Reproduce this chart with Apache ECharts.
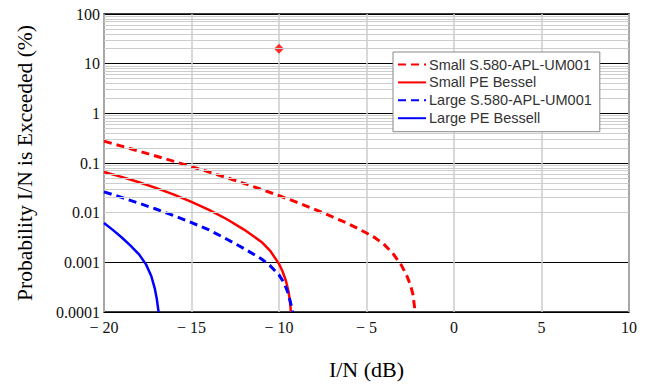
<!DOCTYPE html>
<html>
<head>
<meta charset="utf-8">
<script src="https://cdn.jsdelivr.net/npm/echarts@6.0.0/dist/echarts.min.js"></script>
<style>
    html, body {margin: 0; padding: 0; background: #fff;}
    .chart__container {width: 651px; height: 385px;}
</style>
</head>
<body>
<div class="chart__container"></div>
<script>
// I/N (dB) against probability (%)
let xTickLabels = ['\u2212 20', '\u2212 15', '\u2212 10', '\u2212 5', '0', '5', '10'];
let yTickLabels = ['0.0001', '0.001', '0.01', '0.1', '1', '10', '100'];

let smallS580X = [-20, -19, -18, -17, -16, -15, -14, -13, -12, -11, -10, -9, -8, -7, -6, -5, -4.5, -4, -3.5, -3, -2.7, -2.5, -2.35, -2.26, -2.22];
let smallS580Y = [0.275, 0.219, 0.173, 0.137, 0.108, 0.0845, 0.0658, 0.0508, 0.0389, 0.0294, 0.022, 0.0163, 0.0118, 0.0084, 0.0059, 0.0039, 0.0031, 0.0023, 0.00153, 0.00087, 0.00054, 0.00036, 0.00023, 0.00013, 0.0001];

let smallBesselX = [-20, -19, -18, -17, -16, -15, -14, -13, -12, -11, -10.5, -10, -9.8, -9.6, -9.45, -9.37, -9.32];
let smallBesselY = [0.0661, 0.0526, 0.041, 0.0312, 0.0231, 0.0165, 0.0114, 0.00745, 0.00457, 0.00257, 0.0017, 0.00093, 0.00066, 0.00042, 0.00025, 0.00016, 0.0001];

let largeS580X = [-20, -19, -18, -17, -16, -15, -14, -13, -12, -11, -10.5, -10, -9.7, -9.5, -9.35, -9.22];
let largeS580Y = [0.0263, 0.0203, 0.0155, 0.0117, 0.0087, 0.0063, 0.0045, 0.00295, 0.0019, 0.00117, 0.00085, 0.00056, 0.00038, 0.00025, 0.00016, 0.0001];

let largeBesselX = [-20, -19.5, -19, -18.5, -18, -17.6, -17.3, -17.1, -16.98, -16.88];
let largeBesselY = [0.0062, 0.0045, 0.0032, 0.0022, 0.00145, 0.00091, 0.00053, 0.0003, 0.00018, 0.0001];

let pointX = [-10];
let pointY = [20];

let pairs = (xs, ys) => xs.map((x, i) => [x, ys[i]]);

// minor log grid lines 2..9 in each decade
let minorLines = [];
for (let k = -4; k <= 1; k++) {
    for (let m = 2; m <= 9; m++) {
        minorLines.push({yAxis: m * Math.pow(10, k)});
    }
}

let main = document.querySelector('.chart__container');
let chart = echarts.init(main, null, {renderer: 'svg'});

let serifFont = 'Liberation Serif';

let lineSeries = (name, color, type, width, xs, ys) => ({
    type: 'line',
    name: name,
    data: pairs(xs, ys),
    symbol: 'none',
    showSymbol: false,
    smooth: false,
    z: 3,
    color: color,
    lineStyle: {color: color, width: width, type: type, join: 'round'},
});

let option = {
    animation: false,
    backgroundColor: '#fff',
    grid: {
        left: 104,
        right: 22,
        top: 14,
        bottom: 68,
        show: true,
        borderColor: '#000',
        borderWidth: 1.5,
        backgroundColor: 'transparent',
    },
    legend: {
        left: 393,
        top: 52,
        z: 20,
        orient: 'vertical',
        itemWidth: 28,
        itemHeight: 14,
        itemGap: 2.9,
        padding: [5, 8, 6, 4],
        backgroundColor: '#fff',
        borderColor: '#888',
        borderWidth: 1,
        borderRadius: 0,
        selectedMode: false,
        itemStyle: {opacity: 0},
        data: ['Small S.580-APL-UM001', 'Small PE Bessel', 'Large S.580-APL-UM001', 'Large PE Bessell'],
        textStyle: {
            fontFamily: 'Liberation Sans',
            fontSize: 14.5,
            color: '#333',
            padding: [0, 0, 0, -2],
        },
    },
    xAxis: {
        type: 'value',
        min: -20,
        max: 10,
        interval: 5,
        name: 'I/N (dB)',
        nameLocation: 'middle',
        nameGap: 46,
        nameTextStyle: {fontFamily: serifFont, fontSize: 22, color: '#000'},
        axisLine: {show: false},
        axisTick: {show: false},
        axisLabel: {
            fontFamily: serifFont,
            fontSize: 16,
            color: '#111',
            margin: 7,
            formatter: (value) => xTickLabels[Math.round((value + 20) / 5)],
        },
        splitLine: {show: true, lineStyle: {color: '#cdcdcd', width: 1.5}},
    },
    yAxis: {
        type: 'log',
        logBase: 10,
        min: 0.0001,
        max: 100,
        name: 'Probability I/N is Exceeded (%)',
        nameLocation: 'middle',
        nameGap: 68,
        nameTextStyle: {fontFamily: serifFont, fontSize: 21.5, color: '#000'},
        axisLine: {show: false},
        axisTick: {show: false},
        axisLabel: {
            fontFamily: serifFont,
            fontSize: 16,
            color: '#111',
            margin: 4,
            formatter: (value) => yTickLabels[Math.round(Math.log10(value)) + 4],
        },
        splitLine: {show: true, lineStyle: {color: '#000', width: 1.2}},
    },
    series: [
        {
            type: 'line',
            name: 'minor grid',
            data: [],
            silent: true,
            z: 1,
            markLine: {
                silent: true,
                symbol: 'none',
                label: {show: false},
                lineStyle: {color: '#cdcdcd', width: 1, type: 'solid'},
                emphasis: {disabled: true},
                data: minorLines,
            },
        },
        lineSeries('Small S.580-APL-UM001', '#ff0000', [8, 5], 3, smallS580X, smallS580Y),
        lineSeries('Small PE Bessel', '#ff0000', 'solid', 2.5, smallBesselX, smallBesselY),
        lineSeries('Large S.580-APL-UM001', '#0000ff', [8, 5], 3, largeS580X, largeS580Y),
        lineSeries('Large PE Bessell', '#0000ff', 'solid', 2.5, largeBesselX, largeBesselY),
        {
            type: 'scatter',
            name: 'point',
            data: pairs(pointX, pointY),
            symbol: 'diamond',
            symbolSize: 10,
            color: '#ff0000',
            z: 4,
        },
    ],
};

chart.setOption(option);

window.addEventListener('resize', chart.resize);
</script>
</body>
</html>
